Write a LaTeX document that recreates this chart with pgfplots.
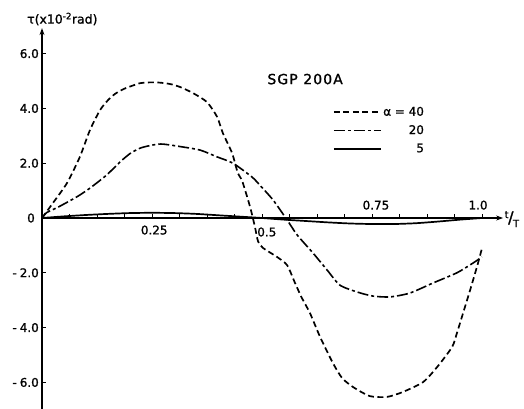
\documentclass[border=0pt]{standalone}
\usepackage{fontspec}
\setmainfont{DejaVu Sans}[FakeBold=1.2]
\usepackage{pgfplots}
\pgfplotsset{compat=1.18}
\usetikzlibrary{arrows.meta}

\pgfplotstableread{
x y
0 0
0.025 0.55
0.057 1.28
0.086 2.23
0.109 3.21
0.132 3.94
0.15 4.3
0.166 4.53
0.186 4.71
0.204 4.82
0.223 4.92
0.245 4.95
0.268 4.94
0.291 4.89
0.314 4.78
0.343 4.56
0.375 4.23
0.398 3.69
0.411 3.1
0.432 2.37
0.445 1.64
0.455 1.35
0.473 0.4
0.484 -0.33
0.491 -0.85
0.502 -1.09
0.534 -1.42
0.557 -1.72
0.575 -2.37
0.59 -2.9
0.609 -3.47
0.632 -4.34
0.661 -5.29
0.682 -5.84
0.707 -6.17
0.745 -6.5
0.784 -6.53
0.82 -6.35
0.866 -5.99
0.898 -5.44
0.932 -4.71
0.943 -4.2
0.957 -3.47
0.973 -2.63
0.99 -1.7
1.0 -1.1
}\alphaforty

\pgfplotstableread{
x y
0 0
0.011 0.2
0.037 0.4
0.079 0.77
0.109 1.09
0.147 1.57
0.177 2.04
0.2 2.35
0.223 2.55
0.25 2.66
0.27 2.7
0.284 2.68
0.309 2.62
0.359 2.48
0.398 2.23
0.434 2.0
0.477 1.5
0.495 1.2
0.525 0.66
0.557 -0.07
0.58 -0.62
0.616 -1.28
0.648 -1.9
0.677 -2.45
0.716 -2.7
0.752 -2.85
0.791 -2.88
0.836 -2.74
0.889 -2.37
0.943 -2.0
0.98 -1.64
1.0 -1.42
}\alphatwenty

\pgfplotstableread{
x y
0 0
0.05 0.06
0.1 0.11
0.15 0.15
0.2 0.18
0.25 0.19
0.3 0.18
0.35 0.15
0.4 0.1
0.45 0.05
0.5 0
0.55 -0.06
0.6 -0.11
0.65 -0.16
0.7 -0.2
0.75 -0.22
0.8 -0.22
0.85 -0.19
0.9 -0.13
0.95 -0.06
1.0 0
}\alphafive

\begin{document}
\begin{tikzpicture}
\useasboundingbox (-42bp,-191bp) rectangle (482bp,218bp);
\begin{axis}[
  at={(0,0)}, anchor=origin,
  x=440bp, y=27.4bp,
  xmin=0, xmax=1.048, ymin=-6.97, ymax=6.93,
  axis lines=middle,
  clip=false,
  axis line style={line width=1.3bp, -{Stealth[length=7bp,width=5bp]}},
  tick align=inside,
  major tick length=4bp,
  tick style={line width=0.9bp, black},
  xtick={0.0625,0.125,0.1875,0.25,0.3125,0.375,0.4375,0.5,0.5625,0.625,0.6875,0.75,0.8125,0.875,0.9375,1},
  xticklabels={},
  ytick={-6,-4,-2,2,4,6},
  yticklabels={-\hspace{3bp}6.0,-\hspace{3bp}4.0,-\hspace{3bp}2.0,2.0,4.0,6.0},
  yticklabel style={font=\fontsize{12}{12}\selectfont, anchor=east, inner sep=0pt, xshift=-3bp},
  legend style={at={(axis cs:0.661,4.12)}, anchor=north west, draw=none, fill=none,
    inner sep=0pt, row sep=5bp, nodes={inner sep=1.5bp},
    font=\fontsize{12}{12}\selectfont},
  legend cell align=right,
  legend image code/.code={\draw[#1] (0bp,0bp) -- (47bp,0bp);},
]
\addplot[black, line width=1.7bp, dash pattern=on 6bp off 3.5bp, smooth, tension=0.4] table[x=x,y=y] {\alphaforty};
\addlegendentry{α = 40}
\addplot[black, line width=1.6bp, dash pattern=on 11bp off 3bp on 3bp off 3bp, smooth, tension=0.4] table[x=x,y=y] {\alphatwenty};
\addlegendentry{20}
\addplot[black, line width=1.7bp, smooth, tension=0.4] table[x=x,y=y] {\alphafive};
\addlegendentry{5}

\node[font=\fontsize{12}{12}\selectfont] at (axis cs:-0.025,0) {0};
\node[font=\fontsize{12}{12}\selectfont] at (axis cs:0.255,-0.44) {0.25};
\node[font=\fontsize{12}{12}\selectfont] at (axis cs:0.511,-0.51) {0.5};
\node[font=\fontsize{12}{12}\selectfont] at (axis cs:0.759,0.47) {0.75};
\node[font=\fontsize{12}{12}\selectfont] at (axis cs:0.991,0.47) {1.0};
\node[font=\fontsize{16}{16}\selectfont, inner sep=0pt] at (axis cs:1.068,-0.04) {{\fontsize{10}{10}\selectfont\raisebox{5bp}{t}}\kern-0.5bp/\kern-0.5bp{\fontsize{10}{10}\selectfont\raisebox{-4bp}{T}}};
\node[font=\fontsize{14}{14}\selectfont, inner sep=0pt] at (axis cs:0.598,5.07) {\addfontfeature{LetterSpace=8}SGP 200A};
\end{axis}
\node[font=\fontsize{12.5}{12.5}\selectfont, anchor=west, inner sep=0pt] at (-15bp,199bp) {τ(x10\textsuperscript{-2}rad)};
\end{tikzpicture}
\end{document}
